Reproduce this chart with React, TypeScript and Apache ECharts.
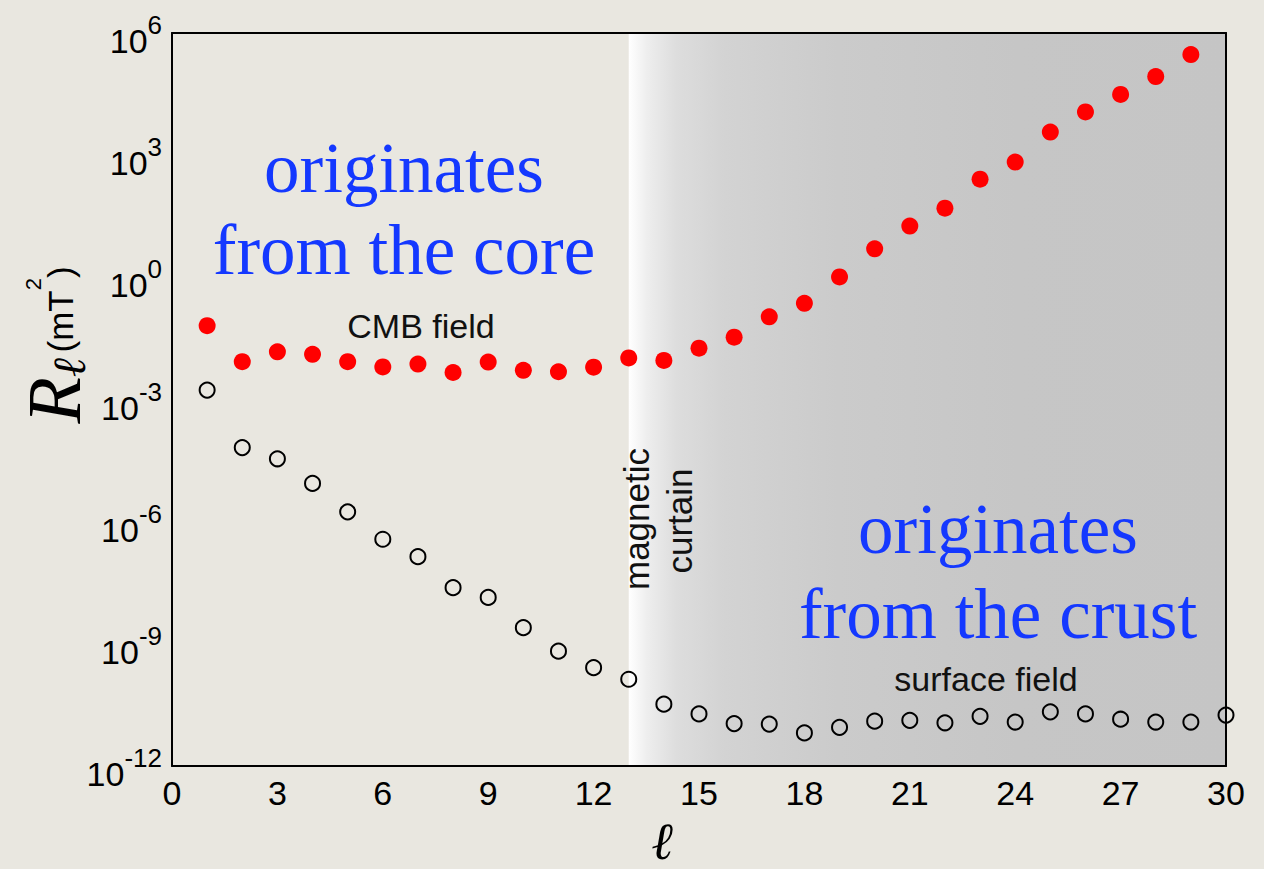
import React, { useEffect, useRef } from "react";
import * as echarts from "echarts";

// Spherical harmonic degree ℓ
const degrees = [
  1, 2, 3, 4, 5, 6, 7, 8, 9, 10, 11, 12, 13, 14, 15,
  16, 17, 18, 19, 20, 21, 22, 23, 24, 25, 26, 27, 28, 29, 30,
];

// Power spectrum downward-continued to the core-mantle boundary (mT²), ℓ = 1..29
const cmbField = [
  6.5e-2, 8.5e-3, 1.48e-2, 1.29e-2, 8.5e-3, 6.3e-3, 7.4e-3, 4.6e-3, 8.3e-3, 5.2e-3,
  4.8e-3, 6.2e-3, 1.05e-2, 9.1e-3, 1.82e-2, 3.4e-2, 1.07e-1, 2.3e-1, 1.02, 5.0,
  18.2, 50, 257, 676, 3.7e3, 1.15e4, 3.1e4, 8.5e4, 2.95e5,
];

// Power spectrum at the Earth's surface (mT²), ℓ = 1..30
const surfaceField = [
  1.7e-3, 6.6e-5, 3.5e-5, 8.7e-6, 1.74e-6, 3.7e-7, 1.38e-7, 2.4e-8, 1.38e-8, 2.5e-9,
  6.6e-10, 2.6e-10, 1.35e-10, 3.3e-11, 1.9e-11, 1.1e-11, 1.07e-11, 6.5e-12, 8.9e-12, 1.26e-11,
  1.32e-11, 1.15e-11, 1.66e-11, 1.2e-11, 2.14e-11, 1.9e-11, 1.41e-11, 1.2e-11, 1.2e-11, 1.78e-11,
];

// Axis ranges
const xRange = [0, 30];
const xStep = 3;
const yRange = [1e-12, 1e6];

// Degree range where the crustal field dominates
const crustBand = [13, 30];

const BG = "#e9e7e0";
const BLUE = "#1438ff";
const SERIF = "'Liberation Serif', 'Times New Roman', serif";
const SANS = "'Liberation Sans', Arial, Helvetica, sans-serif";

export default function App() {
  const ref = useRef<HTMLDivElement>(null);

  useEffect(() => {
    if (!ref.current) return;
    const chart = echarts.init(ref.current, null, { renderer: "svg" });

    const frameLine = { show: true, onZero: false, lineStyle: { color: "#000", width: 2 } };

    const serifText = (text: string, x: number, y: number) => ({
      type: "text",
      x,
      y,
      z: 20,
      style: { text, fontFamily: SERIF, fontSize: 71, fill: BLUE, align: "center", verticalAlign: "middle" },
    });

    const sansText = (text: string, x: number, y: number, size: number, rotated = false) => ({
      type: "text",
      x,
      y,
      z: 20,
      rotation: rotated ? Math.PI / 2 : 0,
      style: { text, fontFamily: SANS, fontSize: size, fill: "#111", align: "center", verticalAlign: "middle" },
    });

    const option: any = {
      animation: false,
      backgroundColor: BG,
      grid: { left: 172, right: 38, top: 33, bottom: 103 },
      xAxis: [
        {
          type: "value",
          min: xRange[0],
          max: xRange[1],
          interval: xStep,
          position: "bottom",
          axisLine: frameLine,
          axisTick: { show: false },
          splitLine: { show: false },
          axisLabel: {
            color: "#000",
            fontSize: 34,
            fontFamily: SANS,
            margin: 10,
          },
          z: 10,
        },
        {
          type: "value",
          min: xRange[0],
          max: xRange[1],
          position: "top",
          axisLine: frameLine,
          axisTick: { show: false },
          splitLine: { show: false },
          axisLabel: { show: false },
          z: 10,
        },
      ],
      yAxis: [
        {
          type: "log",
          logBase: 1000,
          min: yRange[0],
          max: yRange[1],
          position: "left",
          axisLine: frameLine,
          axisTick: { show: false },
          splitLine: { show: false },
          minorTick: { show: false },
          axisLabel: {
            margin: 10,
            showMinLabel: true,
            showMaxLabel: true,
            formatter: (v: number) => `{b|10}{s|${Math.round(Math.log10(v))}}`,
            rich: {
              // base "10" sits low in a tall line, exponent sits at its top
              b: {
                fontSize: 34,
                fontFamily: SANS,
                color: "#000",
                lineHeight: 50,
                verticalAlign: "bottom",
              },
              s: {
                fontSize: 26,
                fontFamily: SANS,
                color: "#000",
                lineHeight: 26,
                padding: [4, 0, 0, 0],
                verticalAlign: "top",
              },
            },
          },
          z: 10,
        },
        {
          type: "log",
          logBase: 1000,
          min: yRange[0],
          max: yRange[1],
          position: "right",
          axisLine: frameLine,
          axisTick: { show: false },
          splitLine: { show: false },
          axisLabel: { show: false },
          z: 10,
        },
      ],
      series: [
        {
          // shaded band: crust-dominated degrees
          type: "line",
          data: [],
          z: 1,
          silent: true,
          markArea: {
            silent: true,
            itemStyle: {
              opacity: 1,
              color: {
                type: "linear",
                x: 0,
                y: 0,
                x2: 1,
                y2: 0,
                colorStops: [
                  { offset: 0, color: "#ffffff" },
                  { offset: 0.03, color: "#eeeeee" },
                  { offset: 0.08, color: "#dddddd" },
                  { offset: 0.16, color: "#d3d3d3" },
                  { offset: 0.35, color: "#cbcbcb" },
                  { offset: 0.65, color: "#c6c6c6" },
                  { offset: 1, color: "#c5c5c5" },
                ],
              },
            },
            data: [[{ xAxis: crustBand[0] }, { xAxis: crustBand[1] }]],
          },
        },
        {
          name: "CMB field",
          type: "scatter",
          z: 3,
          clip: false,
          symbol: "circle",
          symbolSize: 17,
          itemStyle: { color: "#ff0000", opacity: 1 },
          data: cmbField.map((v, i) => [degrees[i], v]),
        },
        {
          name: "surface field",
          type: "scatter",
          z: 3,
          clip: false,
          symbol: "circle",
          symbolSize: 15,
          itemStyle: {
            color: "rgba(0,0,0,0)",
            borderColor: "#000",
            borderWidth: 2,
            opacity: 1,
          },
          data: surfaceField.map((v, i) => [degrees[i], v]),
        },
      ],
      graphic: [
        serifText("originates", 404, 168),
        serifText("from the core", 404, 250),
        serifText("originates", 998, 529),
        serifText("from the crust", 998, 614),
        sansText("CMB field", 421, 326, 34),
        sansText("surface field", 986, 679, 34),
        sansText("magnetic", 636, 519, 35, true),
        sansText("curtain", 679, 521, 35, true),
        {
          // y-axis title: R_ℓ (mT²)
          type: "text",
          x: 54,
          y: 345,
          rotation: Math.PI / 2,
          z: 20,
          style: {
            text: "{R|R}{l|ℓ}{g| }{u|(mT}{p|2}{u|)}",
            fill: "#000",
            align: "center",
            verticalAlign: "middle",
            rich: {
              R: { fontFamily: SERIF, fontStyle: "italic", fontSize: 76, fill: "#000", lineHeight: 76, verticalAlign: "middle" },
              l: { fontFamily: SERIF, fontStyle: "italic", fontSize: 46, fill: "#000", lineHeight: 46, verticalAlign: "bottom" },
              g: { fontFamily: SANS, fontSize: 20, fill: "#000" },
              u: { fontFamily: SANS, fontSize: 35, fill: "#000", lineHeight: 40, padding: [12, 0, 0, 0], verticalAlign: "middle" },
              p: { fontFamily: SANS, fontSize: 22, fill: "#000", lineHeight: 22, padding: [6, 0, 0, 0], verticalAlign: "top" },
            },
          },
        },
        {
          // x-axis title: ℓ
          type: "text",
          x: 662,
          y: 867,
          z: 20,
          style: { text: "ℓ", fontFamily: SERIF, fontStyle: "italic", fontSize: 52, fill: "#000", align: "center", verticalAlign: "bottom" },
        },
      ],
    };

    chart.setOption(option);
    return () => chart.dispose();
  }, []);

  return (
    <div
      ref={ref}
      style={{ position: "fixed", left: 0, top: 0, width: 1264, height: 869 }}
    />
  );
}
